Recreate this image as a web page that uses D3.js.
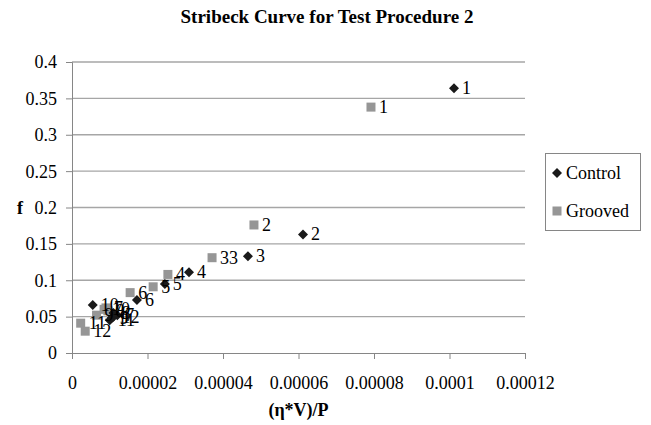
<!DOCTYPE html>
<html>
<head>
<meta charset="utf-8">
<script src="https://cdn.jsdelivr.net/npm/d3@7"></script>
<style>
  body { margin: 0; background: #fff; }
  text { font-family: "Liberation Serif", "Times New Roman", serif; }
</style>
</head>
<body>
<svg id="chart"></svg>
<script>
let width = 651;
let height = 425;

// values
let controlX = [0.0001012, 0.0000612, 0.0000466, 0.000031, 0.0000246, 0.0000172, 0.000012, 0.000011, 0.0000105, 0.0000055, 0.00001, 0.000011];
let controlY = [0.364, 0.163, 0.133, 0.111, 0.095, 0.073, 0.052, 0.055, 0.048, 0.066, 0.045, 0.05];
let controlLabels = ["1", "2", "3", "4", "5", "6", "7", "8", "9", "10", "11", "12"];

let groovedX = [0.0000792, 0.0000482, 0.0000371, 0.0000254, 0.0000215, 0.0000154, 0.000009, 0.0000095, 0.0000065, 0.0000085, 0.0000023, 0.0000035];
let groovedY = [0.338, 0.176, 0.131, 0.108, 0.091, 0.083, 0.062, 0.058, 0.052, 0.06, 0.041, 0.03];
let groovedLabels = ["1", "2", "33", "4", "5", "6", "7", "8", "9", "10", "11", "12"];

let xTicks = [0, 0.00002, 0.00004, 0.00006, 0.00008, 0.0001, 0.00012];
let xTickLabels = ["0", "0.00002", "0.00004", "0.00006", "0.00008", "0.0001", "0.00012"];
let yTicks = [0, 0.05, 0.1, 0.15, 0.2, 0.25, 0.3, 0.35, 0.4];

let plot = {left: 72, right: 525, top: 62, bottom: 353};
let fontSize = "18px";

let svg = d3.select("#chart")
    .attr("width", width)
    .attr("height", height);

let x = d3.scaleLinear().domain([0, 0.00012]).range([plot.left, plot.right]);
let y = d3.scaleLinear().domain([0, 0.4]).range([plot.bottom, plot.top]);

// title
svg.append("text")
    .attr("x", 327).attr("y", 23)
    .attr("text-anchor", "middle")
    .style("font-size", "19px").style("font-weight", "bold")
    .text("Stribeck Curve for Test Procedure 2");

// gridlines
svg.append("g")
    .selectAll("line")
    .data(yTicks.filter(d => d > 0))
    .enter().append("line")
    .attr("x1", plot.left).attr("x2", plot.right)
    .attr("y1", d => y(d)).attr("y2", d => y(d))
    .attr("stroke", "#a6a6a6").attr("stroke-width", 1.3);

// axes
let xAxis = svg.append("g")
    .attr("transform", "translate(0," + plot.bottom + ")")
    .call(d3.axisBottom(x).tickValues(xTicks).tickSize(6).tickFormat((d, i) => xTickLabels[i]));
let yAxis = svg.append("g")
    .attr("transform", "translate(" + plot.left + ",0)")
    .call(d3.axisLeft(y).tickValues(yTicks).tickSize(6).tickFormat(d => d3.format("")(+d.toFixed(2))));

[xAxis, yAxis].forEach(a => {
    a.select(".domain").attr("stroke", "#868686");
    a.selectAll(".tick line").attr("stroke", "#868686");
    a.selectAll("text")
        .style("font-family", "Liberation Serif, Times New Roman, serif")
        .style("font-size", fontSize).attr("fill", "#000");
});
xAxis.selectAll("text").attr("dy", null).attr("y", 36);
yAxis.selectAll("text").attr("x", -15).attr("dy", "0.33em");

// axis titles
svg.append("text")
    .attr("x", (plot.left + plot.right) / 2).attr("y", 416)
    .attr("text-anchor", "middle")
    .style("font-size", fontSize).style("font-weight", "bold")
    .text("(η*V)/P");
svg.append("text")
    .attr("x", 20).attr("y", 214)
    .attr("text-anchor", "middle")
    .style("font-size", fontSize).style("font-weight", "bold")
    .text("f");

let control = controlX.map((d, i) => ({x: d, y: controlY[i], label: controlLabels[i]}));
let grooved = groovedX.map((d, i) => ({x: d, y: groovedY[i], label: groovedLabels[i]}));

let diamond = "M0,-5L5,0L0,5L-5,0Z";

// grooved squares
svg.append("g")
    .selectAll("rect")
    .data(grooved)
    .enter().append("rect")
    .attr("x", d => x(d.x) - 4.5).attr("y", d => y(d.y) - 4.5)
    .attr("width", 9).attr("height", 9)
    .attr("fill", "#969696");

// control diamonds
svg.append("g")
    .selectAll("path")
    .data(control)
    .enter().append("path")
    .attr("transform", d => "translate(" + x(d.x) + "," + y(d.y) + ")")
    .attr("d", diamond)
    .attr("fill", "#1a1a1a");

// point labels
svg.append("g")
    .selectAll("text")
    .data(grooved.concat(control))
    .enter().append("text")
    .attr("x", d => x(d.x) + 8).attr("y", d => y(d.y) + 6)
    .style("font-size", fontSize)
    .text(d => d.label);

// legend
let legend = svg.append("g");
legend.append("rect")
    .attr("x", 545.5).attr("y", 153.5).attr("width", 95).attr("height", 77)
    .attr("fill", "#fff").attr("stroke", "#868686");
legend.append("path")
    .attr("transform", "translate(557,173)").attr("d", diamond).attr("fill", "#1a1a1a");
legend.append("rect")
    .attr("x", 552.5).attr("y", 206.5).attr("width", 9).attr("height", 9).attr("fill", "#969696");
legend.append("text").attr("x", 566).attr("y", 179).style("font-size", fontSize).text("Control");
legend.append("text").attr("x", 566).attr("y", 217).style("font-size", fontSize).text("Grooved");
</script>
</body>
</html>
